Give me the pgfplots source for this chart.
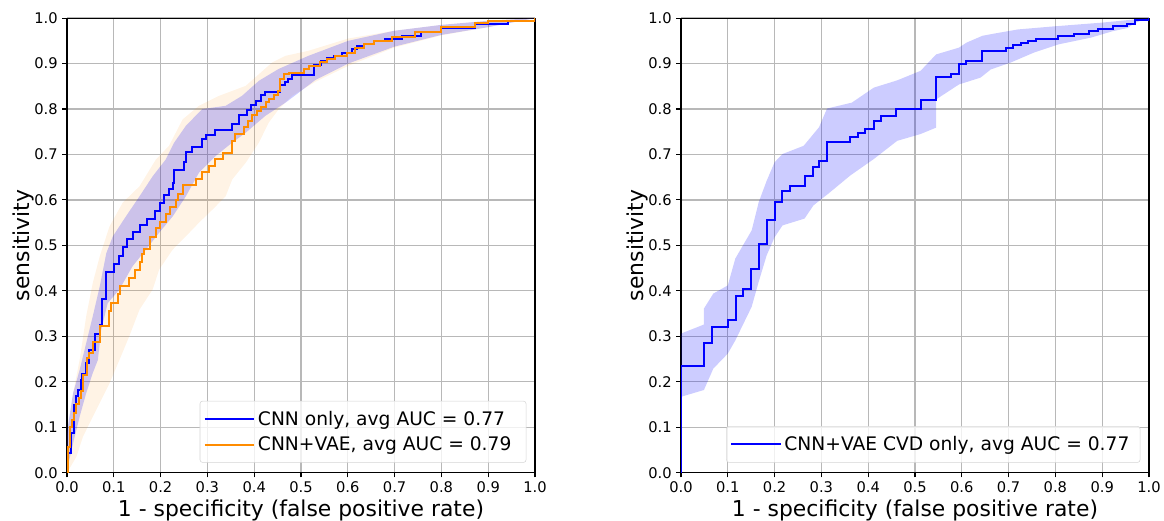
\documentclass[border=0pt]{standalone}
\usepackage{fontspec}
\setmainfont{DejaVu Sans}
\usepackage{pgfplots}
\pgfplotsset{compat=1.18}
\definecolor{dorange}{HTML}{FF8C00}
\definecolor{gridc}{HTML}{B8B8B8}
\definecolor{legc}{HTML}{D5D5D5}
\pgfplotsset{rocstyle/.style={
  scale only axis, width=351pt, height=341pt,
  xmin=0, xmax=1, ymin=0, ymax=1,
  xtick={0,0.1,0.2,0.3,0.4,0.5,0.6,0.7,0.8,0.9,1},
  ytick={0,0.1,0.2,0.3,0.4,0.5,0.6,0.7,0.8,0.9,1},
  xticklabels={0.0,0.1,0.2,0.3,0.4,0.5,0.6,0.7,0.8,0.9,1.0},
  yticklabels={0.0,0.1,0.2,0.3,0.4,0.5,0.6,0.7,0.8,0.9,1.0},
  grid=major, major grid style={gridc, line width=0.9pt},
  axis line style={black, line width=0.8pt},
  tick style={black, line width=0.8pt}, tick align=outside, major tick length=3.5pt,
  tick pos=left,
  ticklabel style={font=\fontsize{11}{13}\selectfont},
  xlabel={1 - specificity (false positive rate)},
  ylabel={sensitivity},
  label style={font=\fontsize{16.4}{19}\selectfont},
  xlabel style={at={(axis description cs:0.5,-0.0968)}, anchor=base},
  ylabel style={at={(axis description cs:-0.0791,0.5)}, anchor=base},
  legend cell align=left,
  legend image code/.code={\draw[#1] (0pt,0pt) -- (30pt,0pt); \path (0pt,0pt) -- (37pt,0pt);},
  legend style={at={(axis description cs:1,0)}, anchor=south east, xshift=-6.5pt, yshift=7.5pt,
    draw=legc, rounded corners=2pt, fill=white, fill opacity=0.8, text opacity=1,
    font=\fontsize{14}{16.5}\selectfont, row sep=3pt, inner xsep=3pt, inner ysep=5.5pt},
}}
\begin{document}
\begin{tikzpicture}
\path[use as bounding box] (0,0) rectangle (873pt,390.75pt);
% ---------------- left panel ----------------
\begin{axis}[rocstyle, at={(50.25pt,36.2pt)}, anchor=south west]
% orange band
\addplot[draw=none, fill=dorange, fill opacity=0.1, forget plot] coordinates {
(0,0.079) (0.013,0.175) (0.027,0.248) (0.041,0.344) (0.055,0.417) (0.070,0.476) (0.091,0.542) (0.119,0.594) (0.155,0.630) (0.190,0.689) (0.218,0.719) (0.247,0.777) (0.282,0.807) (0.325,0.829) (0.382,0.851) (0.438,0.902) (0.467,0.917) (0.516,0.928) (0.601,0.955) (0.699,0.972) (0.8,0.985) (0.9,0.994) (1,1)
(0.9,0.98) (0.8,0.962) (0.699,0.935) (0.601,0.895) (0.531,0.86) (0.481,0.829) (0.452,0.799) (0.431,0.770) (0.410,0.726) (0.382,0.682) (0.353,0.645) (0.339,0.608) (0.311,0.579) (0.282,0.550) (0.254,0.520) (0.226,0.491) (0.197,0.447) (0.183,0.403) (0.155,0.359) (0.133,0.300) (0.112,0.248) (0.091,0.197) (0.077,0.168) (0.055,0.123) (0.034,0.079) (0.020,0.035) (0,0)
} -- cycle;
% blue band
\addplot[draw=none, fill=blue, fill opacity=0.2, forget plot] coordinates {
(0,0.09) (0.013,0.175) (0.027,0.226) (0.041,0.285) (0.055,0.344) (0.070,0.410) (0.084,0.483) (0.098,0.520) (0.126,0.564) (0.155,0.608) (0.183,0.652) (0.211,0.689) (0.229,0.726) (0.254,0.763) (0.289,0.800) (0.339,0.807) (0.374,0.829) (0.410,0.862) (0.452,0.888) (0.516,0.917) (0.601,0.95) (0.699,0.972) (0.8,0.985) (0.9,0.994) (1,1)
(0.9,0.98) (0.8,0.963) (0.699,0.937) (0.601,0.9) (0.531,0.864) (0.467,0.814) (0.424,0.785) (0.382,0.748) (0.353,0.726) (0.318,0.697) (0.282,0.660) (0.254,0.608) (0.226,0.564) (0.197,0.528) (0.169,0.491) (0.140,0.454) (0.112,0.403) (0.087,0.373) (0.073,0.314) (0.066,0.248) (0.055,0.219) (0.041,0.175) (0.027,0.123) (0.013,0.065) (0,0.006)
} -- cycle;
% blue mean ROC
\addplot[blue, line width=1.5pt, const plot] coordinates {
(0,0) (0.002,0.043) (0.008,0.087) (0.015,0.149) (0.019,0.168) (0.024,0.182) (0.029,0.203) (0.033,0.217) (0.041,0.242) (0.048,0.270) (0.060,0.305) (0.070,0.326) (0.074,0.382) (0.084,0.441) (0.101,0.458) (0.112,0.476) (0.119,0.497) (0.128,0.514) (0.140,0.530) (0.155,0.544) (0.170,0.558) (0.189,0.575) (0.199,0.594) (0.208,0.610) (0.217,0.623) (0.227,0.638) (0.229,0.666) (0.249,0.683) (0.254,0.705) (0.268,0.717) (0.288,0.733) (0.296,0.743) (0.316,0.754) (0.353,0.766) (0.367,0.786) (0.385,0.798) (0.394,0.808) (0.403,0.818) (0.415,0.830) (0.424,0.838) (0.456,0.852) (0.465,0.860) (0.472,0.867) (0.481,0.874) (0.527,0.896) (0.543,0.906) (0.556,0.912) (0.570,0.917) (0.587,0.924) (0.609,0.932) (0.620,0.938) (0.634,0.942) (0.655,0.950) (0.680,0.955) (0.716,0.960) (0.757,0.970) (0.800,0.979) (0.871,0.988) (0.942,0.994) (1,1)
};
\addlegendentry{CNN only, avg AUC = 0.77}
% orange mean ROC
\addplot[dorange, line width=1.5pt, const plot] coordinates {
(0,0) (0.002,0.057) (0.006,0.101) (0.011,0.116) (0.016,0.131) (0.020,0.151) (0.026,0.164) (0.030,0.179) (0.034,0.215) (0.043,0.252) (0.048,0.263) (0.055,0.287) (0.070,0.322) (0.089,0.355) (0.094,0.373) (0.109,0.394) (0.113,0.410) (0.133,0.428) (0.146,0.445) (0.155,0.463) (0.160,0.480) (0.165,0.493) (0.177,0.518) (0.190,0.539) (0.199,0.552) (0.211,0.568) (0.221,0.585) (0.233,0.599) (0.238,0.614) (0.248,0.633) (0.275,0.647) (0.288,0.661) (0.304,0.675) (0.316,0.689) (0.334,0.704) (0.352,0.730) (0.360,0.744) (0.378,0.761) (0.387,0.774) (0.396,0.786) (0.406,0.796) (0.414,0.805) (0.425,0.815) (0.432,0.822) (0.443,0.830) (0.450,0.840) (0.456,0.866) (0.463,0.877) (0.474,0.880) (0.506,0.888) (0.517,0.894) (0.541,0.903) (0.556,0.910) (0.573,0.917) (0.598,0.924) (0.615,0.935) (0.634,0.943) (0.655,0.950) (0.694,0.959) (0.744,0.969) (0.800,0.981) (0.871,0.989) (0.899,0.994) (1,1)
};
\addlegendentry{CNN+VAE, avg AUC = 0.79\hspace*{6pt}}
\end{axis}
% ---------------- right panel ----------------
\begin{axis}[rocstyle, at={(510.75pt,36.2pt)}, anchor=south west]
\addplot[draw=none, fill=blue, fill opacity=0.2, forget plot] coordinates {
(0,0.306) (0.049,0.326) (0.049,0.361) (0.069,0.394) (0.1,0.412) (0.116,0.471) (0.151,0.533) (0.166,0.595) (0.183,0.642) (0.2,0.683) (0.217,0.701) (0.262,0.719) (0.283,0.745) (0.295,0.76) (0.312,0.801) (0.365,0.814) (0.412,0.847) (0.462,0.863) (0.512,0.884) (0.545,0.92) (0.594,0.935) (0.61,0.946) (0.644,0.961) (0.67,0.966) (0.72,0.975) (0.8,0.982) (0.9,0.99) (1,1)
(0.971,0.99) (0.954,0.978) (0.922,0.971) (0.876,0.957) (0.806,0.942) (0.754,0.924) (0.704,0.902) (0.662,0.887) (0.64,0.869) (0.594,0.854) (0.545,0.821) (0.545,0.759) (0.512,0.745) (0.462,0.73) (0.412,0.69) (0.362,0.654) (0.315,0.614) (0.283,0.588) (0.264,0.559) (0.217,0.544) (0.2,0.518) (0.183,0.478) (0.166,0.42) (0.151,0.365) (0.116,0.291) (0.1,0.262) (0.069,0.229) (0.049,0.182) (0,0.167)
} -- cycle;
\addplot[blue, line width=1.5pt, const plot] coordinates {
(0,0) (0,0.235) (0.05,0.286) (0.067,0.320) (0.1,0.336) (0.117,0.389) (0.133,0.403) (0.15,0.448) (0.167,0.504) (0.183,0.556) (0.2,0.596) (0.216,0.619) (0.232,0.630) (0.264,0.652) (0.281,0.673) (0.295,0.685) (0.312,0.728) (0.362,0.739) (0.378,0.747) (0.394,0.756) (0.412,0.774) (0.428,0.784) (0.460,0.801) (0.512,0.820) (0.545,0.870) (0.576,0.878) (0.594,0.899) (0.610,0.905) (0.644,0.928) (0.694,0.935) (0.709,0.941) (0.726,0.946) (0.742,0.950) (0.758,0.953) (0.806,0.961) (0.840,0.966) (0.872,0.971) (0.890,0.977) (0.922,0.982) (0.954,0.987) (0.971,0.996) (1,1)
};
\addlegendentry{CNN+VAE CVD only, avg AUC = 0.77\hspace*{3pt}}
\end{axis}
\end{tikzpicture}
\end{document}
